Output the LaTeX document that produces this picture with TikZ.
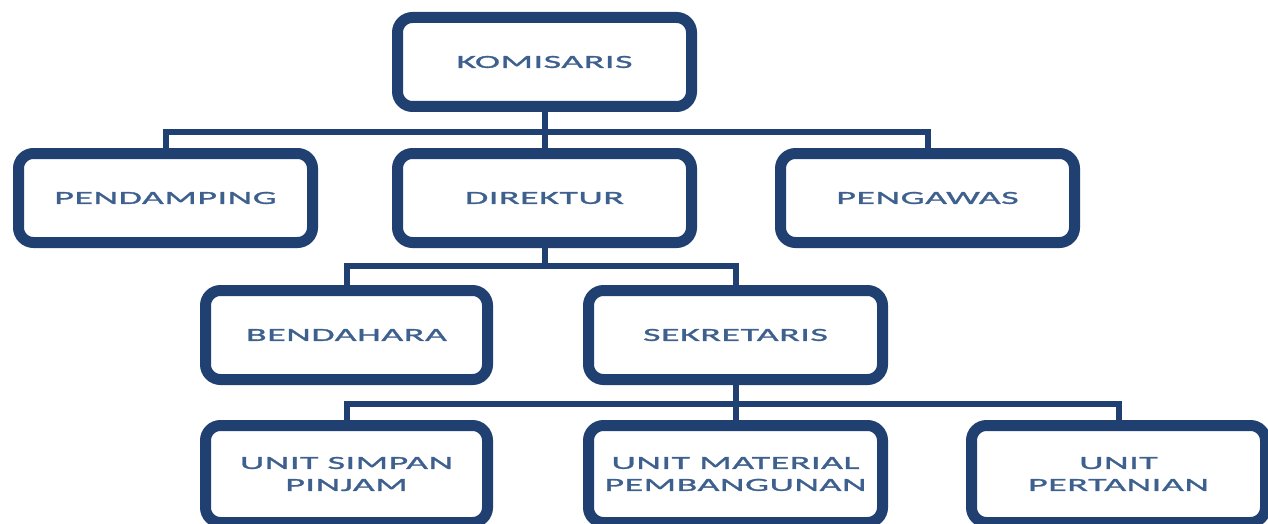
\documentclass[tikz,border=0pt]{standalone}
\usepackage{fontspec}
\usepackage{xcolor}
\newfontfamily\orgfont[FakeStretch=2.05,LetterSpace=3,FakeBold=1.5]{Carlito}
\definecolor{dblue}{RGB}{31,64,112}
\definecolor{tblue}{RGB}{62,96,142}
\usetikzlibrary{positioning}
\tikzstyle{Box} = [
draw=dblue,
line width=11pt,
rounded corners=15pt,
fill=white,
minimum width=294pt,
minimum height=89pt,
align=center,
text=tblue,
font=\orgfont\fontsize{18.5}{22}\selectfont]
\tikzstyle{Link} = [
line width=6pt,
dblue]

\begin{document}
\begin{tikzpicture}[x=1pt, y=1pt]
    \useasboundingbox (0,0) rectangle (1268,-524);
    \node [Box] (1) at (544.5,-62) {KOMISARIS};
    \node [Box, below =36pt of 1] (3) {DIREKTUR};
    \node [Box, left =74pt of 3] (2) {PENDAMPING};
    \node [Box, right =78pt of 3] (4) {PENGAWAS};
    \node [Box, minimum width=282pt, below =37pt of 3, xshift=-198pt] (5) {BENDAHARA};
    \node [Box, right =90pt of 5] (6) {SEKRETARIS};
    \node [Box, minimum width=282pt, minimum height=97pt, below =35pt of 5] (7) {UNIT SIMPAN\\PINJAM};
    \node [Box, minimum height=97pt, below =35pt of 6] (8) {UNIT MATERIAL\\PEMBANGUNAN};
    \node [Box, minimum height=97pt, right =78pt of 8] (9) {UNIT\\PERTANIAN};

    \draw[Link] (1.south) -- ++(0,-20) -| (2.north);
    \draw[Link] (1.south) -- ++(0,-20) -| (3.north);
    \draw[Link] (1.south) -- ++(0,-20) -| (4.north);
    \draw[Link] (3.south) -- ++(0,-18) -| (5.north);
    \draw[Link] (3.south) -- ++(0,-18) -| (6.north);
    \draw[Link] (6.south) -- ++(0,-19) -| (7.north);
    \draw[Link] (6.south) -- ++(0,-19) -| (8.north);
    \draw[Link] (6.south) -- ++(0,-19) -| (9.north);
\end{tikzpicture}
\end{document}
